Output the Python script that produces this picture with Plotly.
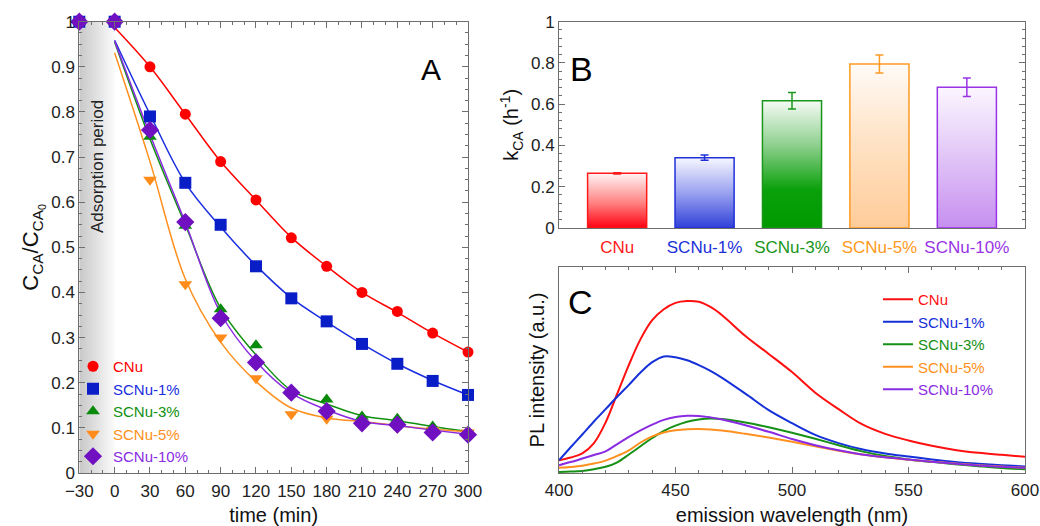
import plotly.graph_objects as go

# ---------------- Panel A: CA concentration vs time ----------------
t_points = [-30, 0, 30, 60, 90, 120, 150, 180, 210, 240, 270, 300]
c_cnu = [1, 1, 0.900, 0.795, 0.690, 0.605, 0.521, 0.458, 0.400, 0.358, 0.310, 0.268]
c_s1 = [1, 1, 0.790, 0.643, 0.550, 0.458, 0.387, 0.336, 0.286, 0.242, 0.204, 0.173]
c_s3 = [1, 1, 0.745, 0.548, 0.363, 0.283, 0.180, 0.163, 0.125, 0.120, 0.103, 0.090]
c_s5 = [1, 1, 0.650, 0.418, 0.300, 0.210, 0.130, 0.120, 0.110, 0.100, 0.095, 0.090]
c_s10 = [1, 1, 0.760, 0.556, 0.343, 0.245, 0.178, 0.137, 0.110, 0.107, 0.090, 0.085]

# kinetic fit curves (irradiation period)
t_fit = [0, 30, 60, 90, 120, 150, 180, 210, 240, 270, 300]
fit_cnu = [0.987, 0.900, 0.795, 0.690, 0.605, 0.522, 0.458, 0.400, 0.356, 0.310, 0.268]
fit_s1 = [0.959, 0.795, 0.643, 0.545, 0.460, 0.388, 0.335, 0.286, 0.242, 0.205, 0.173]
fit_s3 = [0.955, 0.740, 0.550, 0.365, 0.262, 0.183, 0.153, 0.127, 0.116, 0.103, 0.092]
fit_s5 = [0.931, 0.690, 0.430, 0.290, 0.203, 0.144, 0.122, 0.114, 0.105, 0.097, 0.092]
fit_s10 = [0.957, 0.750, 0.555, 0.354, 0.247, 0.177, 0.140, 0.114, 0.105, 0.095, 0.086]

adsorption_period = [-30, 0]

# ---------------- Panel B: rate constants ----------------
samples = ["CNu", "SCNu-1%", "SCNu-3%", "SCNu-5%", "SCNu-10%"]
k_ca = [0.265, 0.341, 0.617, 0.795, 0.682]
k_ca_err = [0.003, 0.013, 0.040, 0.044, 0.045]

# ---------------- Panel C: PL spectra ----------------
wavelength = [400, 405, 410, 415, 420, 425, 430, 435, 440, 445, 450, 455, 460, 465,
              470, 480, 490, 500, 510, 520, 530, 540, 550, 560, 570, 580, 590, 600]
pl_cnu = [0.062, 0.075, 0.095, 0.145, 0.245, 0.385, 0.525, 0.650, 0.742, 0.795, 0.826, 0.835,
          0.831, 0.806, 0.766, 0.665, 0.578, 0.490, 0.390, 0.310, 0.237, 0.190, 0.158, 0.132,
          0.112, 0.098, 0.088, 0.079]
pl_s1 = [0.062, 0.125, 0.187, 0.250, 0.310, 0.370, 0.428, 0.488, 0.538, 0.566, 0.562, 0.547,
         0.524, 0.496, 0.462, 0.385, 0.305, 0.242, 0.185, 0.145, 0.115, 0.095, 0.080, 0.066,
         0.054, 0.045, 0.038, 0.032]
pl_s3 = [0.005, 0.007, 0.010, 0.018, 0.030, 0.052, 0.090, 0.130, 0.170, 0.205, 0.230, 0.249,
         0.260, 0.265, 0.262, 0.245, 0.222, 0.195, 0.166, 0.135, 0.105, 0.082, 0.066, 0.054,
         0.043, 0.033, 0.024, 0.018]
pl_s5 = [0.025, 0.029, 0.035, 0.046, 0.060, 0.083, 0.110, 0.148, 0.178, 0.197, 0.207, 0.212,
         0.213, 0.211, 0.206, 0.190, 0.172, 0.152, 0.130, 0.108, 0.090, 0.076, 0.064, 0.055,
         0.046, 0.038, 0.031, 0.025]
pl_s10 = [0.038, 0.053, 0.070, 0.087, 0.105, 0.140, 0.175, 0.207, 0.235, 0.258, 0.272, 0.278,
          0.277, 0.270, 0.260, 0.232, 0.200, 0.165, 0.135, 0.110, 0.090, 0.076, 0.065, 0.055,
          0.045, 0.037, 0.030, 0.025]

FONT = "Liberation Sans, Arial, sans-serif"
AXC = "#6e6e6e"

colors = ["#ff0000", "#0a1ec8", "#0a8a0a", "#ff8c1a", "#7010c0"]
curve_colors = ["#ff0000", "#1a2ee0", "#109010", "#ff9020", "#8a2be2"]
symbols = ["circle", "square", "triangle-up", "triangle-down", "diamond"]
msizes = [11, 12, 12, 12, 14]

def colored(text, col):
    return f'<span style="color:{col}">{text}</span>'

fig = go.Figure()

# adsorption period shading
fig.add_trace(go.Scatter(
    x=[adsorption_period[0], adsorption_period[1], adsorption_period[1], adsorption_period[0]],
    y=[0, 0, 1, 1], fill="toself", mode="none",
    fillgradient=dict(type="horizontal", colorscale=[[0, "#c8c8c8"], [1, "#fbfbfb"]]),
    showlegend=False, hoverinfo="skip", xaxis="x", yaxis="y"))

fits = [fit_cnu, fit_s1, fit_s3, fit_s5, fit_s10]
points = [c_cnu, c_s1, c_s3, c_s5, c_s10]
for i in range(5):
    fig.add_trace(go.Scatter(
        x=t_fit, y=fits[i], mode="lines",
        line=dict(color=curve_colors[i], width=1.5, shape="spline"),
        showlegend=False, hoverinfo="skip", xaxis="x", yaxis="y"))
for i in range(5):
    fig.add_trace(go.Scatter(
        x=t_points, y=points[i], mode="markers", cliponaxis=False,
        marker=dict(symbol=symbols[i], size=msizes[i], color=colors[i], line=dict(width=0)),
        name=colored(samples[i], curve_colors[i]), legend="legend",
        xaxis="x", yaxis="y"))

# Panel B: gradient-filled bars
bar_w = 0.676
bar_line = ["#ff1a1a", "#2030d8", "#1a961a", "#ff9a22", "#9933e6"]
bar_grad = [
    [[0, "#ff0010"], [0.45, "#ff8080"], [1, "#fff4f4"]],
    [[0, "#3040d8"], [0.5, "#9aa2f0"], [1, "#f7f7ff"]],
    [[0, "#009a00"], [0.3, "#0aa00a"], [0.65, "#8ed08e"], [1, "#f6fbf6"]],
    [[0, "#ffcc99"], [0.6, "#ffe6cc"], [1, "#fffbf7"]],
    [[0, "#c68ff0"], [0.6, "#e6cff8"], [1, "#fcf6ff"]],
]
for i in range(5):
    left, right = i - bar_w / 2, i + bar_w / 2
    fig.add_trace(go.Scatter(
        x=[left, right, right, left], y=[0, 0, k_ca[i], k_ca[i]],
        fill="toself", mode="none",
        fillgradient=dict(type="vertical", colorscale=bar_grad[i]),
        showlegend=False, hoverinfo="skip", xaxis="x2", yaxis="y2"))
for i in range(5):
    fig.add_trace(go.Bar(
        x=[i], y=[k_ca[i]], width=bar_w,
        marker=dict(color="rgba(0,0,0,0)", line=dict(color=bar_line[i], width=1.5)),
        error_y=dict(type="data", array=[k_ca_err[i]], color=bar_line[i], thickness=1.5, width=4),
        showlegend=False, xaxis="x4", yaxis="y4"))

# Panel C: PL spectra
spectra = [pl_cnu, pl_s1, pl_s3, pl_s5, pl_s10]
pl_colors = ["#ff1010", "#1530d8", "#169016", "#ff9020", "#8a2be2"]
for i in range(5):
    fig.add_trace(go.Scatter(
        x=wavelength, y=spectra[i], mode="lines",
        line=dict(color=pl_colors[i], width=2, shape="spline"),
        name=colored(samples[i], pl_colors[i]), legend="legend2",
        xaxis="x3", yaxis="y3"))

W, H = 1040, 526
def px(x):
    return x / W
def py(y):
    return 1 - y / H

tick_font = dict(family=FONT, size=17, color="#222")
common = dict(showline=True, linecolor=AXC, linewidth=1, showgrid=False, zeroline=False,
              tickcolor=AXC, tickfont=tick_font, automargin=False)

fig.update_layout(
    width=W, height=H, margin=dict(l=0, r=0, t=0, b=0, autoexpand=False),
    paper_bgcolor="white", plot_bgcolor="white",
    font=dict(family=FONT, color="#111"),
    barmode="overlay",
    xaxis=dict(domain=[px(79.3), px(468)], range=[-30, 300], tick0=-30, dtick=30,
               ticks="inside", ticklen=6, mirror="ticks", anchor="y", ticklabelstandoff=3,
               minor=dict(dtick=10, ticks="inside", ticklen=3, tickcolor=AXC),
               title=dict(text="time (min)", font=dict(size=20), standoff=7), **common),
    yaxis=dict(domain=[py(473), py(21.7)], range=[0, 1], dtick=0.1,
               ticks="inside", ticklen=6, mirror="ticks", anchor="x",
               minor=dict(dtick=0.025, ticks="inside", ticklen=3, tickcolor=AXC),
               title=dict(text="C<sub>CA</sub>/C<sub>CA<sub>0</sub></sub>", font=dict(size=22), standoff=6),
               **common),
    xaxis2=dict(domain=[px(559), px(1025)], range=[-0.665, 4.665],
                tickvals=list(range(5)), ticktext=[colored(s, c) for s, c in zip(samples, bar_line)],
                ticks="", mirror=True, anchor="y2", ticklabelstandoff=4, **common),
    yaxis2=dict(domain=[py(228), py(21.7)], range=[0, 1], dtick=0.2,
                ticks="inside", ticklen=6, mirror="ticks", anchor="x2",
                minor=dict(dtick=0.04, ticks="inside", ticklen=3, tickcolor=AXC),
                title=dict(text="k<sub>CA</sub> (h<sup>-1</sup>)", font=dict(size=20), standoff=6),
                **common),
    xaxis4=dict(overlaying="x2", range=[-0.665, 4.665], visible=False, anchor="y4"),
    yaxis4=dict(overlaying="y2", range=[0, 1], visible=False, anchor="x4"),
    xaxis3=dict(domain=[px(559), px(1025)], range=[400, 600], dtick=50,
                ticks="inside", ticklen=6, mirror="ticks", anchor="y3", ticklabelstandoff=2,
                minor=dict(dtick=10, ticks="inside", ticklen=3, tickcolor=AXC),
                title=dict(text="emission wavelength (nm)", font=dict(size=20), standoff=8),
                **common),
    yaxis3=dict(domain=[py(473), py(267)], range=[0, 1], showticklabels=False,
                ticks="", mirror=True, anchor="x3",
                title=dict(text="PL intensity (a.u.)", font=dict(size=20), standoff=8),
                **common),
    legend=dict(x=px(73), y=py(350), xanchor="left", yanchor="top",
                bgcolor="rgba(0,0,0,0)", font=dict(size=15), tracegroupgap=0),
    legend2=dict(x=px(878), y=py(283), xanchor="left", yanchor="top",
                 bgcolor="rgba(0,0,0,0)", font=dict(size=15), tracegroupgap=0),
    annotations=[
        dict(text="Adsorption period", x=-15, y=0.68, xref="x", yref="y",
             textangle=-90, showarrow=False, font=dict(size=17, color="#222")),
        dict(text="A", x=px(431), y=py(51), xref="paper", yref="paper",
             showarrow=False, font=dict(size=30, color="#000")),
        dict(text="B", x=px(581), y=py(48), xref="paper", yref="paper",
             showarrow=False, font=dict(size=34, color="#000")),
        dict(text="C", x=px(580), y=py(302), xref="paper", yref="paper",
             showarrow=False, font=dict(size=34, color="#000")),
    ],
)

fig.write_html("out.html")
